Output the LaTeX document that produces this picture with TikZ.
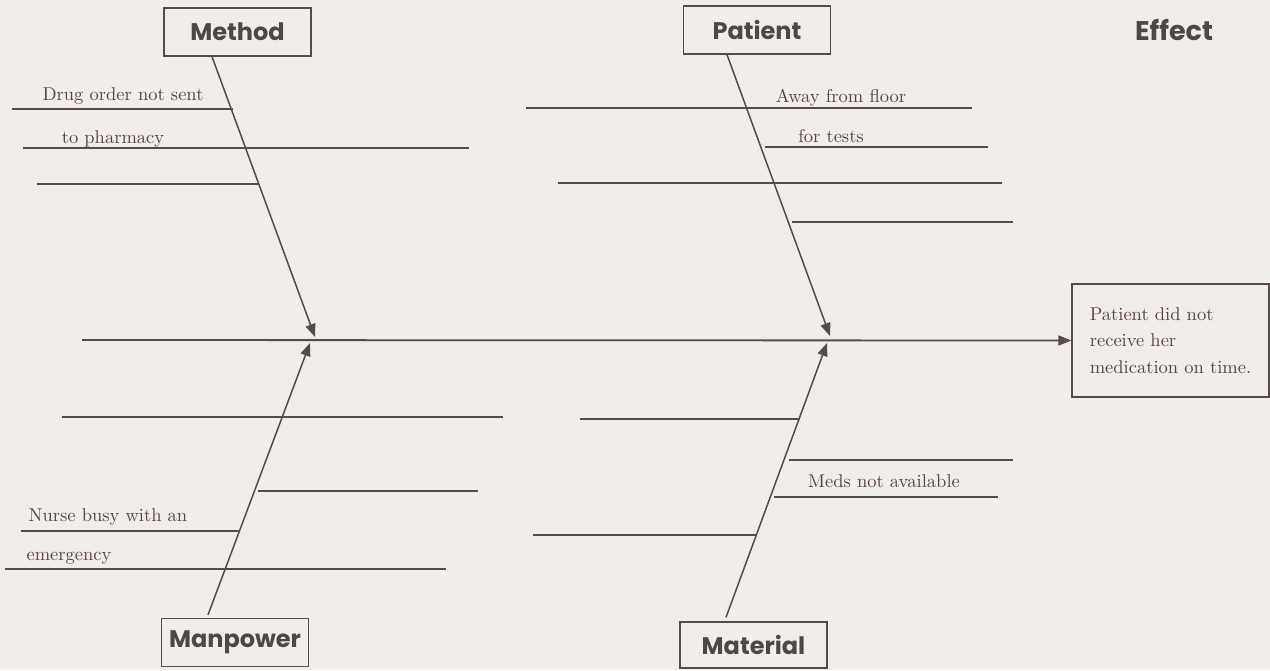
\documentclass[tikz,border=0pt]{standalone}
\usepackage{fontspec}
\usetikzlibrary{arrows.meta}
\newfontfamily\headfont{Poppins}
\newfontfamily\causefont{lmroman10-regular}[Extension=.otf]
\definecolor{paper}{RGB}{241,238,233}
\definecolor{ink}{RGB}{86,74,76}
\definecolor{labelink}{RGB}{78,70,72}
\definecolor{causeink}{RGB}{88,66,70}

\begin{document}
\begin{tikzpicture}[x=1pt,y=-1pt,
  catbox/.style={draw=ink, line width=1.3pt, minimum width=147pt, minimum height=48pt,
    inner sep=0pt, font=\headfont\bfseries\fontsize{24}{28}\selectfont, text=labelink},
  rib/.style={draw=ink, line width=1.4pt},
  spine/.style={draw=ink, line width=1.5pt, -{Triangle[length=13pt,width=10pt]}},
  cause/.style={font=\causefont\fontsize{18.5}{24}\selectfont, text=causeink, inner sep=0pt, anchor=base},
]
% page
\fill[paper] (0,0) rectangle (1270,670);
\useasboundingbox (0,0) rectangle (1270,670);

% category boxes
\node[catbox] (method)   at (237.5,32)  {Method};
\node[catbox] (patient)  at (757,30)    {Patient};
\node[catbox] (manpower) at (235,642.5) {Manpower};
\node[catbox, minimum height=46pt] (material) at (753.5,645) {Material};

% effect
\node[font=\headfont\bfseries\fontsize{27}{30}\selectfont, text=labelink]
  (efftitle) at (1174,30) {Effect};
\node[draw=ink, line width=1.3pt, minimum width=197pt, minimum height=113pt,
      align=left, inner sep=0pt, text=causeink,
      font=\causefont\fontsize{18.5}{26.5}\selectfont]
  (effect) at (1170.5,340.5) {Patient did not\\receive her\\medication on time.};

% main spine
\coordinate (tail) at (82,340);
\draw[spine, line width=1.8pt] (tail) -- (effect.west);

% bone tips on the spine
\coordinate (mtip) at (315,337);
\coordinate (ptip) at (830,336);
\coordinate (wtip) at (310,343);
\coordinate (ltip) at (827,343);

\draw[spine] ([xshift=-25.5pt]method.south)  -- (mtip);
\draw[spine] ([xshift=-30pt]patient.south)   -- (ptip);
\draw[spine] ([xshift=-27pt,yshift=3pt]manpower.north) -- (wtip);
\draw[spine] ([xshift=-27.5pt,yshift=4pt]material.north) -- (ltip);

% Method ribs
\draw[rib] (12,109) -- (233,109);
\draw[rib] (23,148) -- (469,148);
\draw[rib] (37,184) -- (258,184);
\node[cause] (c1) at (123,100) {Drug order not sent};
\node[cause] (c2) at (113,143) {to pharmacy};

% Patient ribs
\draw[rib] (526,108) -- (972,108);
\draw[rib] (765,147) -- (988,147);
\draw[rib] (558,183) -- (1002,183);
\draw[rib] (792,222) -- (1013,222);
\node[cause] (c3) at (841,102) {Away from floor};
\node[cause] (c4) at (831,142) {for tests};

% Manpower ribs
\draw[rib] (62,417) -- (503,417);
\draw[rib] (258,491) -- (478,491);
\draw[rib] (21,531) -- (239,531);
\draw[rib] (5,569) -- (446,569);
\node[cause] (c5) at (108,521) {Nurse busy with an};
\node[cause] (c6) at (69,560) {emergency};

% Material ribs
\draw[rib] (580,419) -- (800,419);
\draw[rib] (789,460) -- (1013,460);
\draw[rib] (774,497) -- (998,497);
\draw[rib] (533,535) -- (757,535);
\node[cause] (c7) at (884,487) {Meds not available};
\end{tikzpicture}
\end{document}
